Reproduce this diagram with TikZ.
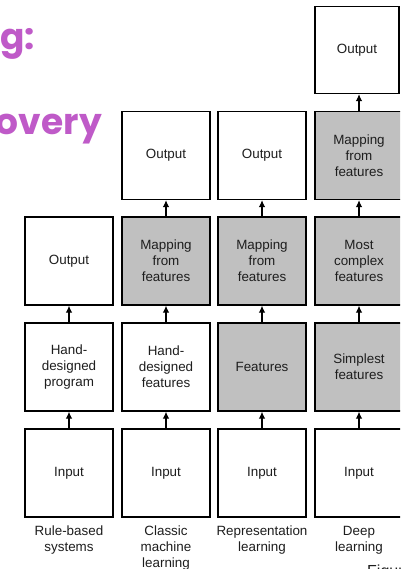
\documentclass[tikz,border=0pt]{standalone}
\usepackage{fontspec}
\setmainfont{Liberation Sans}
\newfontfamily\handfont{Poppins}
\usetikzlibrary{arrows.meta}
\definecolor{boxgray}{HTML}{C0C0C0}
\definecolor{handcol}{HTML}{BF5AC8}
\definecolor{textcol}{HTML}{1E1E1E}
\begin{document}
\begin{tikzpicture}[x=1pt,y=-1pt,
  box/.style={draw=black, line width=1.2pt, minimum width=88pt, minimum height=88pt,
    inner sep=0pt, align=center, text=textcol, font=\fontsize{13.4}{16}\selectfont},
  gbox/.style={box, fill=boxgray},
  wbox/.style={box, fill=white},
  arr/.style={-{Latex[length=7pt,width=6.5pt]}, line width=1.2pt},
  lab/.style={anchor=north, inner sep=0pt, align=center, text=textcol, font=\fontsize{13.4}{16}\selectfont},
  hand/.style={anchor=base east, inner sep=0pt, text=handcol, font=\handfont\bfseries\fontsize{36}{40}\selectfont}]
\useasboundingbox (0,0) rectangle (400,569);
\clip (0,0) rectangle (400,569);
\fill[white] (0,0) rectangle (400,569);

% handwritten title fragments
\node[hand] (t1) at (35,50) {learning:};
\node[hand] (t2) at (102,135) {discovery};

% column 1: rule-based
\node[wbox] (a1) at (69,473) {Input};
\node[wbox] (a2) at (69,367) {Hand-\\designed\\program};
\node[wbox] (a3) at (69,261) {Output};
% column 2: classic ML
\node[wbox] (b1) at (166,473) {Input};
\node[wbox] (b2) at (166,367) {Hand-\\designed\\features};
\node[gbox] (b3) at (166,261) {Mapping\\from\\features};
\node[wbox] (b4) at (166,155.5) {Output};
% column 3: representation learning
\node[wbox] (c1) at (262,473) {Input};
\node[gbox] (c2) at (262,367) {Features};
\node[gbox] (c3) at (262,261) {Mapping\\from\\features};
\node[wbox] (c4) at (262,155.5) {Output};
% column 4: deep learning
\node[wbox] (d1) at (359,473) {Input};
\node[gbox] (d2) at (359,367) {Simplest\\features};
\node[gbox] (d3) at (359,261) {Most\\complex\\features};
\node[gbox] (d4) at (359,155.5) {Mapping\\from\\features};
\node[wbox, minimum width=84pt, minimum height=87pt] (d5) at (357,50) {Output};

% arrows
\foreach \p/\q in {a1/a2,a2/a3,b1/b2,b2/b3,b3/b4,c1/c2,c2/c3,c3/c4,d1/d2,d2/d3,d3/d4}
  \draw[arr] (\p.north) -- (\q.south);
\draw[arr] (d4.north) -- (d4.north |- d5.south);

% column labels
\node[lab] (l1) at (69,526) {Rule-based\\systems};
\node[lab] (l2) at (166,526) {Classic\\machine\\learning};
\node[lab] (l3) at (262,526) {Representation\\learning};
\node[lab] (l4) at (359,526) {Deep\\learning};

\node[anchor=north west, inner sep=0pt, text=textcol, font=\fontsize{16}{18}\selectfont] (fig) at (367,565) {Figure};
\end{tikzpicture}
\end{document}
